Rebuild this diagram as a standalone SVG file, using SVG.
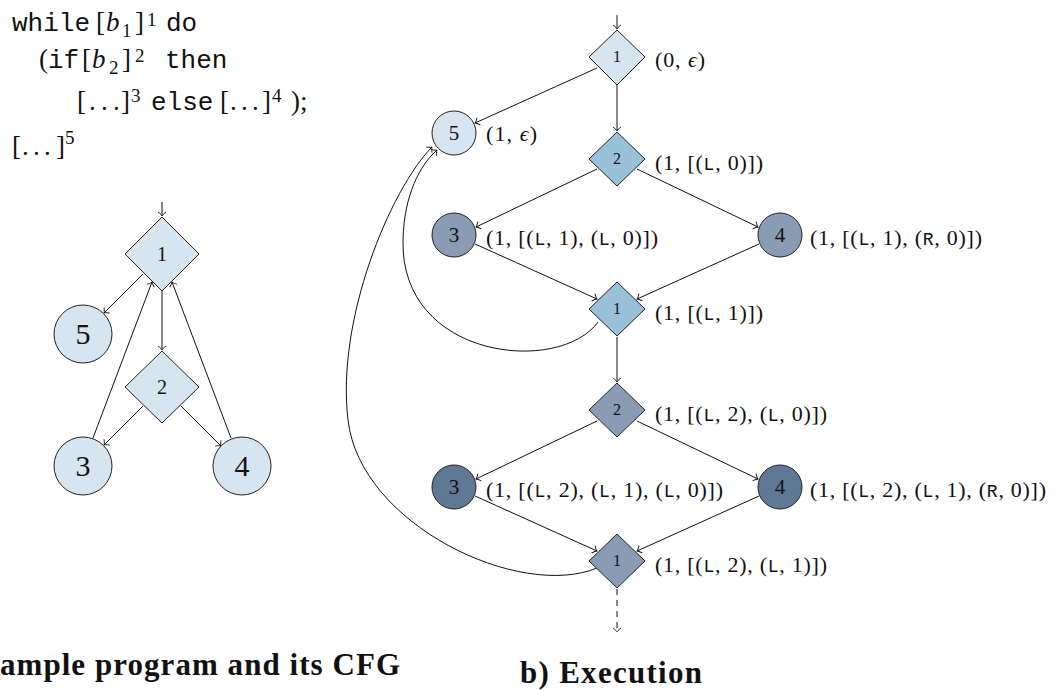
<svg xmlns="http://www.w3.org/2000/svg" width="1060" height="690" viewBox="0 0 1060 690">
<style>
.rm{font-family:"Liberation Serif","DejaVu Serif",serif;font-size:27px;fill:#111}
.tt{font-family:"Liberation Mono",monospace;font-size:26px}
.sm{font-size:19px}
.it{font-style:italic}
.lab{font-family:"Liberation Serif","DejaVu Serif",serif;font-size:22px;fill:#111}
.m{font-family:"Liberation Mono",monospace;font-size:18px}
.num{font-family:"Liberation Serif",serif;fill:#111;text-anchor:middle}
.cap{font-family:"Liberation Serif",serif;font-weight:bold;font-size:31px;fill:#111}
.nd{stroke:#222;stroke-width:1}
.l1{fill:#d6e5f0}.l2{fill:#99c1d9}.l3{fill:#8a9bb4}.l4{fill:#5f7896}
.e{fill:none;stroke:#111;stroke-width:1;marker-end:url(#to)}
.d{stroke-dasharray:6 5}
</style>
<defs>
<marker id="to" markerUnits="userSpaceOnUse" markerWidth="12" markerHeight="12" viewBox="-6 -6 12 12" refX="0" refY="0" orient="auto">
<path d="M-4,-4 C-2,-1.2 -0.6,-0.3 0,0 C-0.6,0.3 -2,1.2 -4,4" fill="none" stroke="#111" stroke-width="0.9"/>
</marker>
</defs>
<rect width="1060" height="690" fill="#fff"/>

<g id="program">
<text class="rm" y="31"><tspan class="tt" x="12">while</tspan><tspan x="96">[</tspan><tspan class="it" x="106">b</tspan><tspan class="sm" x="122" y="37">1</tspan><tspan x="135" y="31">]</tspan><tspan class="sm" x="147" y="26">1</tspan><tspan class="tt" x="166" y="31">do</tspan></text>
<text class="rm" y="68"><tspan x="39">(</tspan><tspan class="tt" x="48">if</tspan><tspan x="82">[</tspan><tspan class="it" x="92">b</tspan><tspan class="sm" x="109" y="74">2</tspan><tspan x="122" y="68">]</tspan><tspan class="sm" x="135" y="62">2</tspan><tspan class="tt" x="165" y="68">then</tspan></text>
<text class="rm" y="110"><tspan x="77">[</tspan><tspan x="89 101 113">...</tspan><tspan x="121">]</tspan><tspan class="sm" x="131" y="102">3</tspan><tspan class="tt" x="151" y="110">else</tspan><tspan x="220">[</tspan><tspan x="230 241 252">...</tspan><tspan x="262">]</tspan><tspan class="sm" x="272" y="102">4</tspan><tspan x="291" y="110">);</tspan></text>
<text class="rm" y="155"><tspan x="12">[</tspan><tspan x="22 33 44">...</tspan><tspan x="56">]</tspan><tspan class="sm" x="65" y="144">5</tspan></text>
</g>

<g id="cfg-edges">
<line class="e" x1="162" y1="202" x2="162" y2="216"/>
<line class="e" x1="143" y1="274" x2="104" y2="313"/>
<line class="e" x1="162" y1="291" x2="162" y2="350"/>
<line class="e" x1="143" y1="406" x2="104" y2="445"/>
<line class="e" x1="181" y1="406" x2="221" y2="446"/>
<line class="e" x1="93" y1="438" x2="152" y2="282"/>
<line class="e" x1="231" y1="438" x2="172" y2="282"/>
</g>
<g id="cfg-n1"><polygon class="nd l1" points="162,217 199,254 162,291 125,254"/><text class="num" x="162" y="261" font-size="20">1</text></g>
<g id="cfg-n5"><circle class="nd l1" cx="83" cy="334" r="29"/><text class="num" x="83" y="344" font-size="30">5</text></g>
<g id="cfg-n2"><polygon class="nd l1" points="162,351 199,387 162,423 125,387"/><text class="num" x="162" y="394" font-size="20">2</text></g>
<g id="cfg-n3"><circle class="nd l1" cx="83" cy="466" r="29"/><text class="num" x="83" y="476" font-size="30">3</text></g>
<g id="cfg-n4"><circle class="nd l1" cx="242" cy="466" r="29"/><text class="num" x="242" y="476" font-size="30">4</text></g>

<g id="exec-edges">
<line class="e" x1="617" y1="15" x2="617" y2="29"/>
<line class="e" x1="597" y1="68" x2="475" y2="123"/>
<line class="e" x1="617" y1="85" x2="617" y2="131"/>
<line class="e" x1="597" y1="169" x2="476" y2="227"/>
<line class="e" x1="637" y1="169" x2="758" y2="227"/>
<line class="e" x1="475" y1="244" x2="597" y2="299"/>
<line class="e" x1="759" y1="244" x2="637" y2="299"/>
<path class="e" d="M598,322 C560,375 400,360 403,240 C404,195 420,165 437,150"/>
<line class="e" x1="617" y1="337" x2="617" y2="382"/>
<line class="e" x1="597" y1="421" x2="476" y2="479"/>
<line class="e" x1="637" y1="421" x2="758" y2="479"/>
<line class="e" x1="475" y1="496" x2="597" y2="551"/>
<line class="e" x1="759" y1="496" x2="637" y2="551"/>
<path class="e" d="M597,568 C520,600 360,525 348,420 C336,320 390,190 432,147"/>
<line class="e d" x1="617" y1="589" x2="617" y2="632"/>
</g>

<g id="x1a"><polygon class="nd l1" points="617,30 645,57 617,85 589,57"/><text class="num" x="617" y="62" font-size="16">1</text><text class="lab" x="655" y="67" textLength="50">(0, <tspan class="it">ϵ</tspan>)</text></g>
<g id="x5"><circle class="nd l1" cx="454" cy="133" r="22"/><text class="num" x="454" y="140" font-size="21">5</text><text class="lab" x="486" y="141" textLength="51">(1, <tspan class="it">ϵ</tspan>)</text></g>
<g id="x2a"><polygon class="nd l2" points="617,132 645,159 617,186 589,159"/><text class="num" x="617" y="164" font-size="16">2</text><text class="lab" x="655" y="170" textLength="108">(1, [(<tspan class="m">L</tspan>, 0)])</text></g>
<g id="x3a"><circle class="nd l3" cx="454" cy="235" r="22"/><text class="num" x="454" y="242" font-size="21">3</text><text class="lab" x="486" y="245" textLength="172">(1, [(<tspan class="m">L</tspan>, 1), (<tspan class="m">L</tspan>, 0)])</text></g>
<g id="x4a"><circle class="nd l3" cx="780" cy="235" r="22"/><text class="num" x="780" y="242" font-size="21">4</text><text class="lab" x="810" y="245" textLength="172">(1, [(<tspan class="m">L</tspan>, 1), (<tspan class="m">R</tspan>, 0)])</text></g>
<g id="x1b"><polygon class="nd l2" points="617,282 645,309 617,336 589,309"/><text class="num" x="617" y="314" font-size="16">1</text><text class="lab" x="655" y="320" textLength="108">(1, [(<tspan class="m">L</tspan>, 1)])</text></g>
<g id="x2b"><polygon class="nd l3" points="617,383 645,410 617,437 589,410"/><text class="num" x="617" y="415" font-size="16">2</text><text class="lab" x="655" y="421" textLength="172">(1, [(<tspan class="m">L</tspan>, 2), (<tspan class="m">L</tspan>, 0)])</text></g>
<g id="x3b"><circle class="nd l4" cx="454" cy="487" r="22"/><text class="num" x="454" y="494" font-size="21">3</text><text class="lab" x="486" y="497" textLength="237">(1, [(<tspan class="m">L</tspan>, 2), (<tspan class="m">L</tspan>, 1), (<tspan class="m">L</tspan>, 0)])</text></g>
<g id="x4b"><circle class="nd l4" cx="780" cy="487" r="22"/><text class="num" x="780" y="494" font-size="21">4</text><text class="lab" x="810" y="497" textLength="236">(1, [(<tspan class="m">L</tspan>, 2), (<tspan class="m">L</tspan>, 1), (<tspan class="m">R</tspan>, 0)])</text></g>
<g id="x1c"><polygon class="nd l3" points="617,534 645,561 617,588 589,561"/><text class="num" x="617" y="566" font-size="16">1</text><text class="lab" x="655" y="572" textLength="172">(1, [(<tspan class="m">L</tspan>, 2), (<tspan class="m">L</tspan>, 1)])</text></g>

<g id="captions">
<text class="cap" x="0" y="675" textLength="400">ample program and its CFG</text>
<text class="cap" x="520" y="683" textLength="182">b) Execution</text>
</g>
</svg>
